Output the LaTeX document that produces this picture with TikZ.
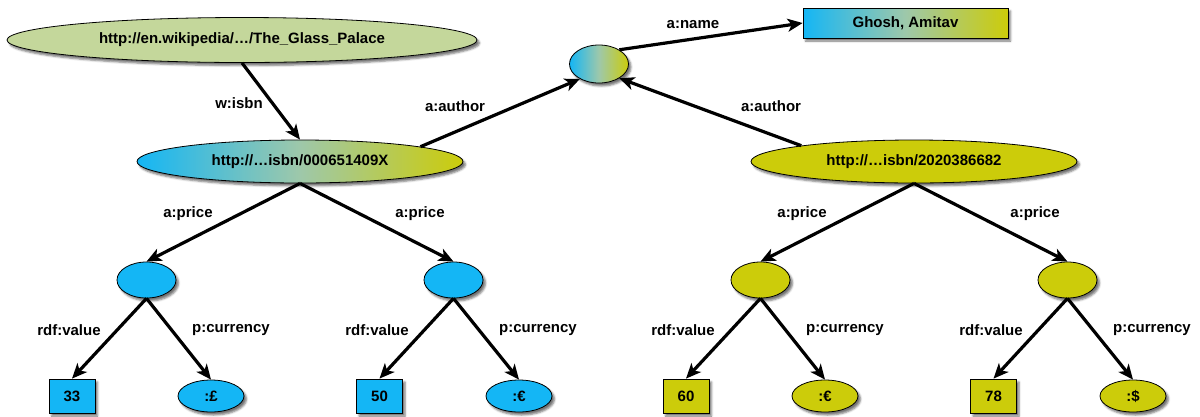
\documentclass[tikz,border=0pt]{standalone}
\usepackage{fontspec}
\setmainfont{Liberation Sans}
\usetikzlibrary{arrows.meta,shapes.geometric,shadows.blur}
\definecolor{cyanA}{RGB}{20,182,245}
\definecolor{oliveA}{RGB}{204,204,10}
\definecolor{midA}{RGB}{158,200,170}
\definecolor{wikiA}{RGB}{196,215,155}
\tikzset{
  base/.style={draw=black, line width=0.8pt, inner sep=0pt,
    font=\bfseries\fontsize{15}{18}\selectfont,
    blur shadow={shadow xshift=2.5pt, shadow yshift=-3pt, shadow blur radius=2pt, shadow opacity=55}},
  ell/.style={base, ellipse},
  boxn/.style={base, rectangle},
  grad/.style={left color=cyanA, right color=oliveA, middle color=midA},
  cyanfill/.style={fill=cyanA},
  olivefill/.style={fill=oliveA},
  lbl/.style={font=\bfseries\fontsize{15}{18}\selectfont, inner sep=0pt},
  arr/.style={line width=3.2pt, -{Stealth[length=15pt, width=13pt, inset=4pt]}},
}
\begin{document}
\begin{tikzpicture}[x=1pt,y=1pt]
\useasboundingbox (0,0) rectangle (1200,-416);
% nodes
\node[ell, fill=wikiA, minimum width=470, minimum height=45] (wiki) at (242,-40) {http://en.wikipedia/…/The\_Glass\_Palace};
\node[ell, grad, minimum width=59, minimum height=38] (author) at (599,-64) {};
\node[boxn, grad, minimum width=205, minimum height=30] (ghosh) at (905.5,-23) {Ghosh, Amitav};
\node[ell, grad, minimum width=326, minimum height=43] (isbn1) at (300,-161.5) {http://…isbn/000651409X};
\node[ell, olivefill, minimum width=326, minimum height=43] (isbn2) at (914,-161.5) {http://…isbn/2020386682};
\node[ell, cyanfill, minimum width=59, minimum height=36] (p1) at (146.5,-280) {};
\node[ell, cyanfill, minimum width=59, minimum height=36] (p2) at (453.5,-280) {};
\node[ell, olivefill, minimum width=59, minimum height=36] (p3) at (760.5,-280) {};
\node[ell, olivefill, minimum width=59, minimum height=36] (p4) at (1067.5,-280) {};
\node[boxn, cyanfill, minimum width=46, minimum height=34] (v1) at (72,-396) {33};
\node[ell, cyanfill, minimum width=66, minimum height=32] (c1) at (211,-396) {:£};
\node[boxn, cyanfill, minimum width=46, minimum height=34] (v2) at (379.5,-396) {50};
\node[ell, cyanfill, minimum width=66, minimum height=32] (c2) at (519,-396) {:€};
\node[boxn, olivefill, minimum width=46, minimum height=34] (v3) at (686,-396) {60};
\node[ell, olivefill, minimum width=66, minimum height=32] (c3) at (825,-396) {:€};
\node[boxn, olivefill, minimum width=46, minimum height=34] (v4) at (993.5,-396) {78};
\node[ell, olivefill, minimum width=66, minimum height=32] (c4) at (1133,-396) {:\$};
% edges
\draw[arr] (wiki.south) -- (isbn1.north);
\draw[arr] (isbn1.7.6) -- (author.218);
\draw[arr] (isbn2.172.8) -- (author.325);
\draw[arr] (author.35) -- (ghosh.west);
\draw[arr] (isbn1.south) -- (p1.north);
\draw[arr] (isbn1.south) -- (p2.north);
\draw[arr] (isbn2.south) -- (p3.north);
\draw[arr] (isbn2.south) -- (p4.north);
\draw[arr] (p1.south) -- (v1.north);
\draw[arr] (p1.south) -- (c1.north);
\draw[arr] (p2.south) -- (v2.north);
\draw[arr] (p2.south) -- (c2.north);
\draw[arr] (p3.south) -- (v3.north);
\draw[arr] (p3.south) -- (c3.north);
\draw[arr] (p4.south) -- (v4.north);
\draw[arr] (p4.south) -- (c4.north);
% labels
\node[lbl] (lw) at (239,-103) {w:isbn};
\node[lbl] (la1) at (455,-106) {a:author};
\node[lbl] (la2) at (771,-106) {a:author};
\node[lbl] (ln) at (693,-25) {a:name};
\node[lbl] (lp1) at (188,-214) {a:price};
\node[lbl] (lp2) at (420,-214) {a:price};
\node[lbl] (lp3) at (802,-214) {a:price};
\node[lbl] (lp4) at (1035,-214) {a:price};
\node[lbl] (lr1) at (69,-330) {rdf:value};
\node[lbl] (lc1) at (231,-330) {p:currency};
\node[lbl] (lr2) at (377,-330) {rdf:value};
\node[lbl] (lc2) at (538,-330) {p:currency};
\node[lbl] (lr3) at (683,-330) {rdf:value};
\node[lbl] (lc3) at (845,-330) {p:currency};
\node[lbl] (lr4) at (991,-330) {rdf:value};
\node[lbl] (lc4) at (1152,-330) {p:currency};
\end{tikzpicture}
\end{document}
